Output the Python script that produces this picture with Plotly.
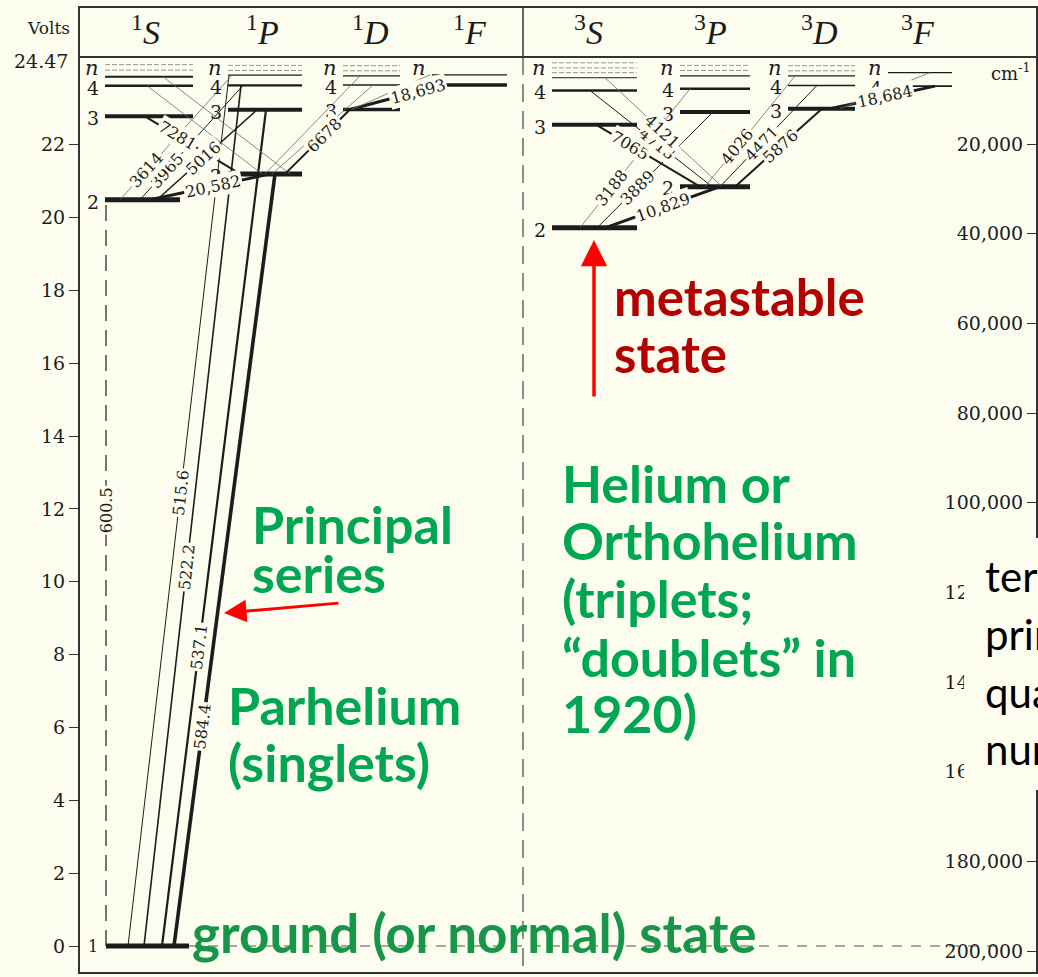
import math
import plotly.graph_objects as go

# ---------------- data ----------------
# term energies in volts; key = multiplicity + L + n
S1_n = [1, 2, 3, 4, 5]
S1_E = [0.0, 20.49, 22.78, 23.62, 23.87]
P1_n = [2, 3, 4, 5]
P1_E = [21.20, 22.96, 23.63, 23.91]
D1_n = [3, 4, 5]
D1_E = [22.97, 23.64, 23.89]
F1_n = [4, 5]
F1_E = [23.64, 23.92]
S3_n = [2, 3, 4, 5]
S3_E = [19.72, 22.55, 23.49, 23.84]
P3_n = [2, 3, 4, 5]
P3_E = [20.85, 22.90, 23.54, 23.89]
D3_n = [3, 4, 5]
D3_E = [22.99, 23.63, 23.89]
F3_n = [4, 5]
F3_E = [23.61, 23.98]
# faint lines crowding toward the series limit
S1_lim = [24.05, 24.20]
P1_lim = [24.04, 24.18]
D1_lim = [24.03, 24.17]
S3_lim = [23.98, 24.11, 24.25]
P3_lim = [24.04, 24.18]
D3_lim = [24.03, 24.17]

# transitions (from level, to level, wavelength label)
line_from = ["1S1", "1S1", "1S1", "1S1", "1S1", "1S2", "1S2", "1S2", "1S2", "1S3", "1S4", "1S5",
             "1P2", "1P2", "1P2", "1D3", "1D3",
             "3S2", "3S2", "3S2", "3S3", "3S4", "3S5", "3P2", "3P2", "3P2", "3D3", "3D3"]
line_to = ["1P5", "1P4", "1P3", "1P2", "1S2", "1P2", "1P3", "1P4", "1P5", "1P2", "1P2", "1P2",
           "1D3", "1D4", "1D5", "1F4", "1F5",
           "3P2", "3P3", "3P4", "3P2", "3P2", "3P2", "3D5", "3D4", "3D3", "3F4", "3F5"]
line_label = ["515.6", "522.2", "537.1", "584.4", "600.5", "20,582", "5016", "3965", "3614", "7281", "", "",
              "6678", "", "", "18,693", "",
              "10,829", "3889", "3188", "7065", "4713", "4121", "4026", "4471", "5876", "18,684", ""]

TERMS = ["1S", "1P", "1D", "1F", "3S", "3P", "3D", "3F"]
TERM_HEAD = ["<sup>1</sup><i>S</i>", "<sup>1</sup><i>P</i>", "<sup>1</sup><i>D</i>", "<sup>1</sup><i>F</i>",
             "<sup>3</sup><i>S</i>", "<sup>3</sup><i>P</i>", "<sup>3</sup><i>D</i>", "<sup>3</sup><i>F</i>"]
VOLT_TICKS = [0, 2, 4, 6, 8, 10, 12, 14, 16, 18, 20, 22]
CM_TICKS = [20000, 40000, 60000, 80000, 100000, 120000, 140000, 160000, 180000, 200000]

LEVELS = {"1S": (S1_n, S1_E), "1P": (P1_n, P1_E), "1D": (D1_n, D1_E), "1F": (F1_n, F1_E),
          "3S": (S3_n, S3_E), "3P": (P3_n, P3_E), "3D": (D3_n, D3_E), "3F": (F3_n, F3_E)}
LIMITS = {"1S": S1_lim, "1P": P1_lim, "1D": D1_lim, "3S": S3_lim, "3P": P3_lim, "3D": D3_lim}

# ---------------- layout / style ----------------
LEFT, RIGHT, TOP, BOT = 80, 1036, 8, 972   # frame, page pixels
W, H = 1038, 977
ML, MT = LEFT, TOP
MR, MB = W - RIGHT, H - BOT
PW, PH = RIGHT - LEFT, BOT - TOP
Y0 = 946          # page row of 0 V
PXV = 36.42       # pixels per volt
BG = "#fdfdef"
INK = "#1c1c1c"
GREEN = "#00a651"
GGREEN = "#17964a"
DRED = "#b30000"
RED = "#ff0000"
SERIF = "DejaVu Serif"
HUMAN = "Lato"


def px(x):
    return (x - LEFT) / PW


def py(y):
    return 1 - (y - TOP) / PH


def ypix(E):
    return Y0 - E * PXV


COL_X = {"1S": (105, 193), "1P": (228, 302), "1D": (343, 400), "1F": (432, 507),
         "3S": (552, 637), "3P": (680, 750), "3D": (788, 855), "3F": (888, 952)}
SPECIAL_X = {"1S1": (106, 189), "1S2": (105, 180)}
HEAD_X = [145, 262, 370, 470, 588, 710, 819, 918]
LEVEL_W = {"1S1": 5, "1S2": 5, "1P2": 5, "3S2": 5, "3P2": 5,
           "1S3": 4, "1P3": 4, "3S3": 4, "3P3": 4, "3D3": 4, "1D3": 3.5,
           "1S4": 2.5, "1P4": 2.2, "3S4": 2.5, "3P4": 2.5, "1F4": 3.5,
           "1D4": 1.5, "3D4": 1.5, "3F4": 1.8, "1S5": 2}

LINE_X = [(128, 229), (144, 241), (162, 266), (174, 275), (106, 106), (150, 270), (157, 257), (140, 243),
          (120, 232), (145, 240), (147, 262), (163, 290), (285, 350), (272, 373), (265, 360), (350, 442),
          (352, 430),
          (605, 720), (597, 713), (580, 690), (596, 700), (590, 712), (605, 722), (705, 795), (720, 817),
          (735, 822), (830, 935), (840, 930)]
LINE_T = [0.52, 0.44, 0.358, 0.284, 0.584, 0.525, 0.46, 0.26, 0.24, 0.34, 0, 0,
          0.6, 0, 0, 0.74, 0,
          0.5, 0.35, 0.29, 0.33, 0.55, 0.49, 0.36, 0.43, 0.52, 0.52, 0]
LINE_W = [1, 1.6, 2.2, 3.6, 1.2, 3, 1.5, 1, 0.8, 2, 0.8, 0.8,
          2, 0.8, 0.8, 3, 0.8,
          3, 1, 0.8, 2, 1, 0.8, 0.8, 1, 2, 3, 0.8]
FAINT = {"3614", "3188", "4121", "4026", ""}


def energy(key):
    term, n = key[:2], int(key[2:])
    ns, es = LEVELS[term]
    return es[ns.index(n)]


fig = go.Figure()
ann = []

# ---- energy levels ----
for term in TERMS:
    ns, es = LEVELS[term]
    for n, E in zip(ns, es):
        key = f"{term}{n}"
        x0, x1 = SPECIAL_X.get(key, COL_X[term])
        w = LEVEL_W.get(key, 1.2)
        fig.add_trace(go.Scatter(x=[x0, x1], y=[E, E], mode="lines",
                                 line=dict(color=INK, width=w), hoverinfo="skip"))
        if n < 5:
            if key == "1S1":
                ann.append(dict(x=x0 - 13, y=E, text="1", showarrow=False, xref="x", yref="y",
                                font=dict(family=SERIF, size=16, color=INK)))
            else:
                ann.append(dict(x=x0 - 12, y=E - 0.05, text=str(n), showarrow=False, xref="x", yref="y",
                                font=dict(family=SERIF, size=19, color=INK)))
    for E in LIMITS.get(term, []):
        x0, x1 = COL_X[term]
        fig.add_trace(go.Scatter(x=[x0, x1], y=[E, E], mode="lines",
                                 line=dict(color="#8a8a8a", width=0.9, dash="5px,2px"), hoverinfo="skip"))
    ann.append(dict(x=COL_X[term][0] - 13, y=24.12, text="<i>n</i>", showarrow=False, xref="x", yref="y",
                    font=dict(family=SERIF, size=21, color=INK)))

# ---- transitions ----
for a, b, lab, (xa, xb), t, w in zip(line_from, line_to, line_label, LINE_X, LINE_T, LINE_W):
    Ea, Eb = energy(a), energy(b)
    faint = lab in FAINT
    dash = "16px,9px" if lab == "600.5" else "solid"
    fig.add_trace(go.Scatter(x=[xa, xb], y=[Ea, Eb], mode="lines",
                             line=dict(color="#6a6a6a" if faint else INK, width=w, dash=dash),
                             hoverinfo="skip"))
    if lab:
        ya, yb = ypix(Ea), ypix(Eb)
        ang = math.degrees(math.atan2(yb - ya, xb - xa))
        if ang < -90:
            ang += 180
        elif ang > 90:
            ang -= 180
        lx = xa + t * (xb - xa)
        lE = Ea + t * (Eb - Ea)
        ann.append(dict(x=lx, y=lE, text=lab, showarrow=False, xref="x", yref="y", textangle=ang,
                        bgcolor=BG, borderpad=1,
                        font=dict(family=SERIF, size=16, color=INK)))

# ---- dashed ground line ----
fig.add_trace(go.Scatter(x=[189, 1000], y=[0, 0], mode="lines",
                         line=dict(color="#555555", width=1.1, dash="10px,9px"), hoverinfo="skip"))
fig.add_trace(go.Scatter(x=[None], y=[None], yaxis="y2", mode="markers", hoverinfo="skip"))

shapes = [
    dict(type="line", xref="paper", yref="paper", x0=0, x1=1, y0=py(57), y1=py(57),
         line=dict(color="#333333", width=2)),
    dict(type="line", xref="paper", yref="paper", x0=px(523), x1=px(523), y0=1, y1=py(57),
         line=dict(color="#333333", width=1.5)),
    dict(type="line", xref="paper", yref="paper", x0=px(523), x1=px(523), y0=py(57), y1=0,
         line=dict(color="#444444", width=1.2, dash="18px,9px")),
    dict(type="rect", xref="paper", yref="paper", x0=px(964), x1=1.01, y0=py(790), y1=py(538),
         fillcolor=BG, line=dict(width=0), layer="above"),
]


def note(x, y, s, size, family=SERIF, xanchor="center", color=INK):
    ann.append(dict(x=px(x), y=py(y), xref="paper", yref="paper", text=s, showarrow=False,
                    xanchor=xanchor, yanchor="middle",
                    font=dict(family=family, size=size, color=color)))


# ---- header ----
for label, hx in zip(TERM_HEAD, HEAD_X):
    note(hx, 30, label, 34, family="Liberation Serif")
note(72, 28, "Volts", 17, xanchor="right")
note(70, 61, "24.47", 19, xanchor="right")
note(1032, 72, "cm<sup>-1</sup>", 18, xanchor="right")


# ---- commentary text ----
def txt(x, y, s, color, size=52, weight="bold", family=HUMAN):
    ann.append(dict(x=px(x), y=py(y), xref="paper", yref="paper", text=s, showarrow=False,
                    xanchor="left", yanchor="middle",
                    font=dict(family=family, size=size, color=color, weight=weight)))

txt(250, 524, "Principal", GREEN)
txt(250, 573, "series", GREEN)
txt(226, 705, "Parhelium", GREEN)
txt(226, 762, "(singlets)", GREEN)
txt(190, 932, "ground (or normal) state", GGREEN, size=53)
txt(612, 296, "metastable", DRED, size=51)
txt(612, 353, "state", DRED, size=51)
txt(560, 483, "Helium or", GREEN)
txt(560, 540, "Orthohelium", GREEN)
txt(560, 598, "(triplets;", GREEN)
txt(560, 657, "\u201cdoublets\u201d in", GREEN)
txt(560, 713, "1920)", GREEN)
for yy, word in zip([576, 634, 692, 749], ["term", "principal", "quantum", "number"]):
    txt(983, yy, word, "#000000", size=42, weight="normal")

# arrows
ann.append(dict(x=px(594), y=py(240), xref="paper", yref="paper", text="", showarrow=True,
                ax=0, ay=158, arrowhead=2, arrowsize=1.5, arrowwidth=3.5, arrowcolor=RED))
ann.append(dict(x=px(224), y=py(613), xref="paper", yref="paper", text="", showarrow=True,
                ax=116, ay=-10, arrowhead=2, arrowsize=1.5, arrowwidth=3, arrowcolor=RED))

# ---- axes ----
yr = [-(BOT - Y0) / PXV, (Y0 - TOP) / PXV]
k_per_px = 180000 / (951 - 144)
y2r = [20000 + (BOT - 144) * k_per_px, 20000 - (144 - TOP) * k_per_px]

fig.update_layout(
    width=W, height=H, margin=dict(l=ML, r=MR, t=MT, b=MB, autoexpand=False),
    paper_bgcolor=BG, plot_bgcolor=BG, showlegend=False, hovermode=False,
    xaxis=dict(range=[LEFT, RIGHT], showline=True, mirror=True, linecolor="#333333", linewidth=2,
               showgrid=False, zeroline=False, showticklabels=False, ticks=""),
    yaxis=dict(range=yr, showline=True, mirror=True, linecolor="#333333", linewidth=2,
               showgrid=False, zeroline=False, ticks="outside", ticklen=9, tickwidth=1.2,
               tickcolor="#333333", tickvals=VOLT_TICKS, ticktext=[str(v) for v in VOLT_TICKS],
               tickfont=dict(family=SERIF, size=19, color=INK)),
    yaxis2=dict(range=y2r, overlaying="y", side="left", anchor="free", position=1.0, showline=False,
                showgrid=False, zeroline=False, ticks="outside", ticklen=9, tickwidth=1.2,
                tickcolor="#333333", automargin=False,
                tickvals=CM_TICKS, ticktext=[f"{v:,}" for v in CM_TICKS],
                tickfont=dict(family=SERIF, size=19, color=INK)),
    shapes=shapes, annotations=ann,
)

fig.write_html(
    "out.html",
    config={"displayModeBar": False},
    post_script="document.body.style.margin='0';document.body.style.overflow='hidden';"
                "document.body.style.background='" + BG + "';",
)
